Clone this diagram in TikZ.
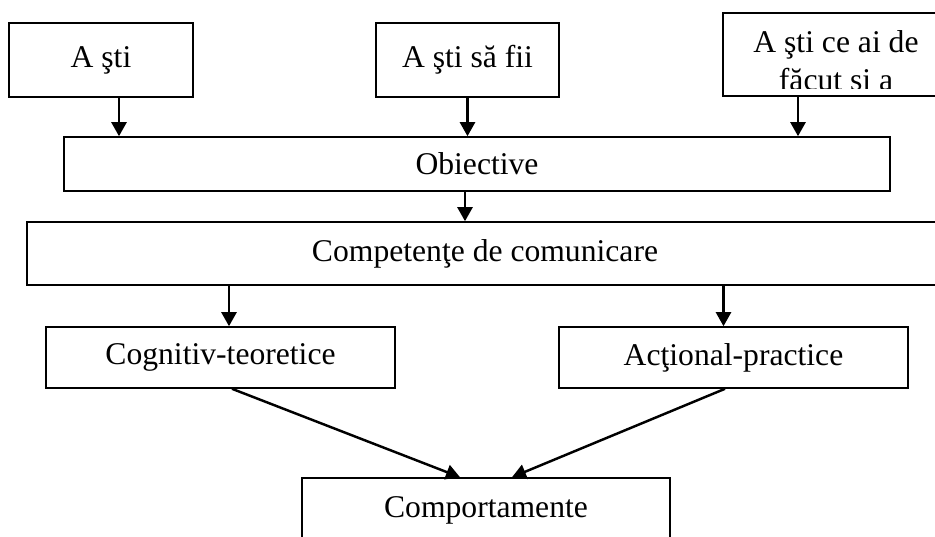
\documentclass[tikz,border=0pt]{standalone}
\usepackage{fontspec}
\setmainfont{Liberation Serif}
\usetikzlibrary{arrows.meta}

\begin{document}
\begin{tikzpicture}

	\tikzstyle{box}=[draw, line width=0.9pt, rectangle, inner sep=0pt, font=\fontsize{18}{21.5}\selectfont]
	\tikzstyle{arc}=[line width=1.4pt, -{Triangle[length=0.28cm,width=0.3cm]}]

	\useasboundingbox (0,0) rectangle (18.7,-10.74);
	\clip (0,0) rectangle (18.7,-10.74);

	% niveau du haut
	\node[box, minimum width=3.68cm, minimum height=1.48cm] (sti) at (2.02,-1.2) {A şti};
	\node[box, minimum width=3.66cm, minimum height=1.48cm] (stisa) at (9.35,-1.2) {A şti să fii};
	\node[box, minimum width=4.52cm, minimum height=1.66cm] (stice) at (16.72,-1.09) {};
	\begin{scope}
		\clip (stice.north west) rectangle ([yshift=0.17cm]stice.south east);
		\node[font=\fontsize{18}{21.5}\selectfont, align=center, anchor=north, inner sep=0pt] (sticetxt) at (16.72,-0.6) {A şti ce ai de\\făcut si a};
	\end{scope}

	% niveaux du milieu
	\node[box, minimum width=16.52cm, minimum height=1.08cm] (obiective) at (9.54,-3.28) {Obiective};
	\node[box, minimum width=18.32cm, minimum height=1.26cm] (compet) at (9.7,-5.07) {Competenţe de comunicare};
	\node[box, minimum width=6.98cm, minimum height=1.22cm] (cognitiv) at (4.41,-7.15) {Cognitiv-teoretice};
	\node[box, minimum width=6.98cm, minimum height=1.22cm] (actional) at (14.67,-7.15) {Acţional-practice};

	% niveau du bas
	\node[box, minimum width=7.36cm, minimum height=1.3cm] (comport) at (9.72,-10.21) {Comportamente};

	\draw[arc] ([xshift=0.36cm]sti.south) -- ([xshift=0.36cm]sti.south |- obiective.north);
	\draw[arc] (stisa.south) -- (stisa.south |- obiective.north);
	\draw[arc] ([xshift=-0.76cm]stice.south) -- ([xshift=-0.76cm]stice.south |- obiective.north);
	\draw[arc] ([xshift=-0.24cm]obiective.south) -- ([xshift=-0.24cm]obiective.south |- compet.north);
	\draw[arc] ([xshift=0.17cm]cognitiv.north |- compet.south) -- ([xshift=0.17cm]cognitiv.north);
	\draw[arc] ([xshift=-0.2cm]actional.north |- compet.south) -- ([xshift=-0.2cm]actional.north);
	\draw[arc] ([xshift=0.23cm]cognitiv.south) -- ([xshift=-0.52cm]comport.north);
	\draw[arc] ([xshift=-0.17cm]actional.south) -- ([xshift=0.52cm]comport.north);

\end{tikzpicture}
\end{document}
